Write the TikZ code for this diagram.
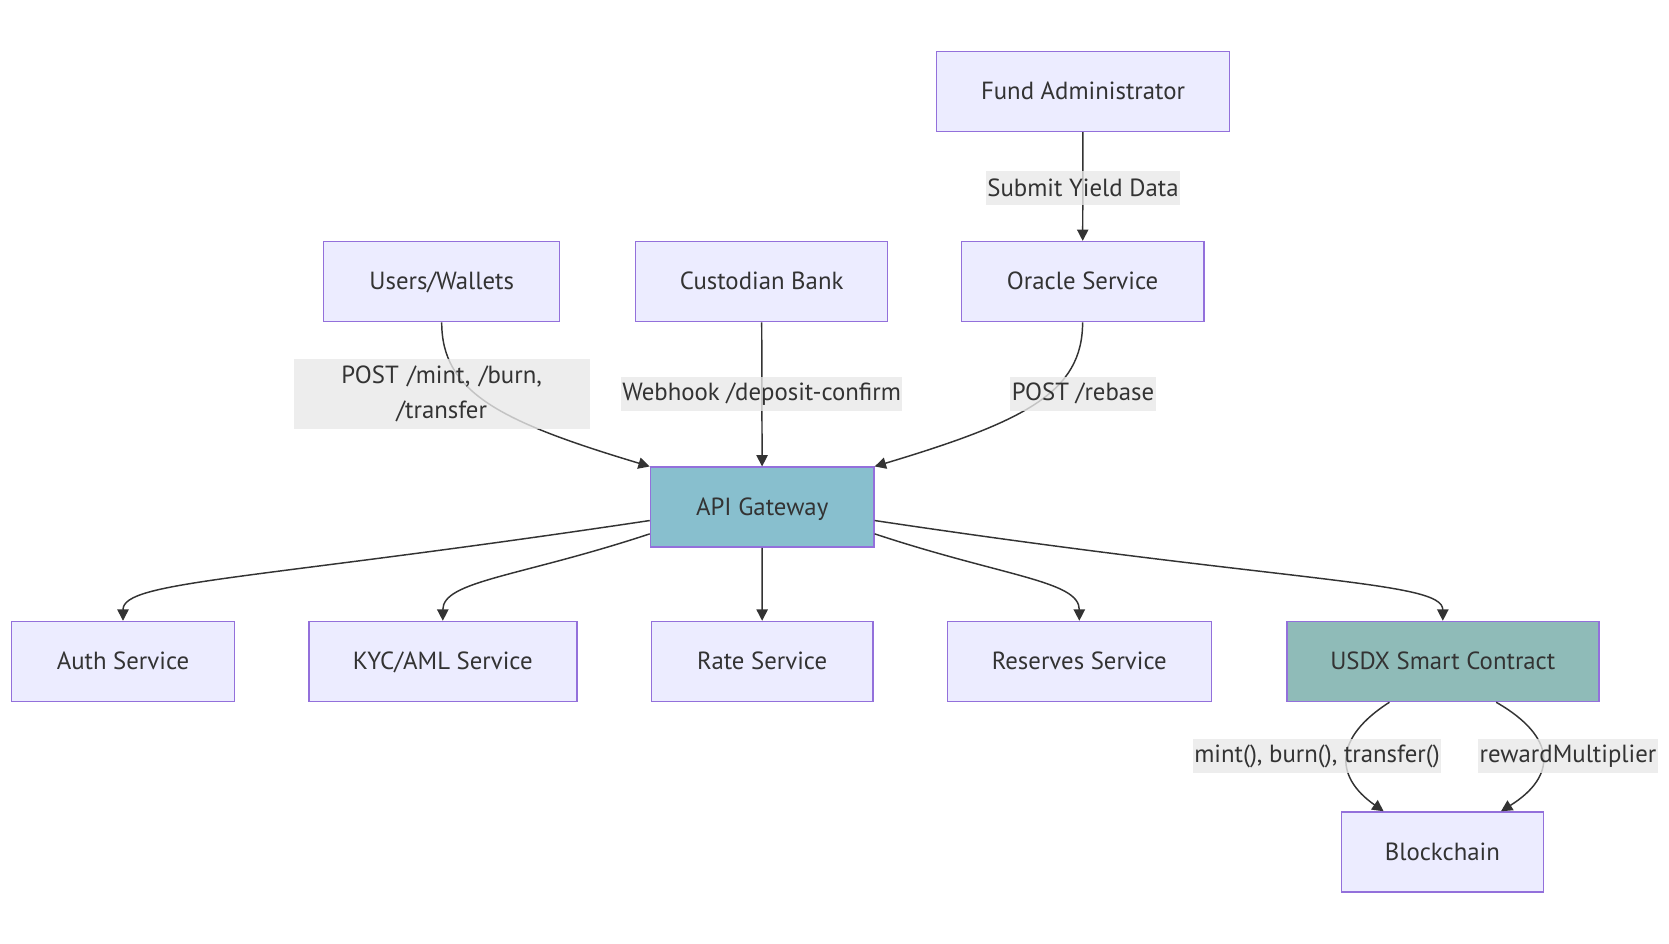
\documentclass[tikz,border=0pt]{standalone}
\usepackage{fontspec}
\setmainfont{PT Sans}
\usetikzlibrary{arrows.meta}

\definecolor{boxfill}{HTML}{ECECFF}
\definecolor{boxline}{HTML}{9370DB}
\definecolor{gatefill}{HTML}{88BFCE}
\definecolor{contractfill}{HTML}{8FBBB8}
\definecolor{inkgray}{HTML}{333333}
\definecolor{labelbg}{HTML}{E8E8E8}

\tikzset{
  box/.style={draw=boxline, fill=boxfill, line width=1.1pt, minimum height=60pt,
    text=inkgray, font=\fontsize{18.6}{22}\selectfont, text height=16pt, text depth=3.5pt},
  gate/.style={box, fill=gatefill},
  contract/.style={box, fill=contractfill},
  flow/.style={draw=inkgray, line width=1.1pt, -{Triangle[length=8.5pt,width=8.5pt]}},
  edgelabel/.style={fill=labelbg, fill opacity=0.8, text opacity=1, text=inkgray,
    font=\fontsize{18.6}{26}\selectfont, inner xsep=1pt, inner ysep=0pt, minimum height=25pt},
}

\begin{document}
\begin{tikzpicture}[x=0.75pt,y=-0.75pt]
  \useasboundingbox (0,0) rectangle (1669,944);

  % sources
  \node[box, minimum width=219.5pt] (fund) at (1083,91.5) {Fund Administrator};
  \node[box, minimum width=182pt] (oracle) at (1082.6,281.6) {Oracle Service};
  \node[box, minimum width=177pt] (users) at (441.7,281.6) {Users/Wallets};
  \node[box, minimum width=189pt] (bank) at (761.6,281.6) {Custodian Bank};
  \node[gate, minimum width=167.6pt] (api) at (762.2,507.2) {API Gateway};

  % services
  \foreach \name/\x/\w/\lab/\sty in {auth/123/167/{Auth Service}/box,
      kyc/442.8/201/{KYC/AML Service}/box, rate/762.1/166/{Rate Service}/box,
      reserves/1079.3/198/{Reserves Service}/box,
      usdx/1442.8/234/{USDX Smart Contract}/contract} {
    \node[\sty, minimum width=\w pt] (\name) at (\x,661.5) {\lab};
  }
  \node[box, minimum width=151.6pt] (chain) at (1442.3,852) {Blockchain};

  % connectors
  \draw[flow] (fund) -- (oracle);
  \draw[flow] (users.south) .. controls +(0,70) and +(-150,-45) .. (api.north west);
  \draw[flow] (bank) -- (api);
  \draw[flow] (oracle.south) .. controls +(0,70) and +(150,-45) .. (api.north east);
  \draw[flow] ([yshift=-10pt]api.west) .. controls +(-400,60) and +(0,-40) .. (auth.north);
  \draw[flow] ([yshift=-20pt]api.west) .. controls +(-130,43) and +(0,-40) .. (kyc.north);
  \draw[flow] (api) -- (rate);
  \draw[flow] ([yshift=-20pt]api.east) .. controls +(130,43) and +(0,-40) .. (reserves.north);
  \draw[flow] ([yshift=-10pt]api.east) .. controls +(420,63) and +(0,-40) .. (usdx.north);
  \draw[flow] ([xshift=-40pt]usdx.south) .. controls +(-55,35) and +(-50,-35) .. ([xshift=-44pt]chain.north);
  \draw[flow] ([xshift=40pt]usdx.south) .. controls +(61,35) and +(56,-35) .. ([xshift=44pt]chain.north);

  % edge labels
  \node[edgelabel] (lblyield) at (1083,187.9) {Submit Yield Data};
  \node[edgelabel, text width=220pt, align=center, minimum height=52.5pt] (lblpost)
    at (441.7,393.9) {POST /mint, /burn,\\/transfer};
  \node[edgelabel] (lblhook) at (761.6,393.9) {Webhook /deposit-confirm};
  \node[edgelabel] (lblrebase) at (1083,393.9) {POST /rebase};
  \node[edgelabel] (lblmint) at (1317,756) {mint(), burn(), transfer()};
  \node[edgelabel] (lblreward) at (1568,756) {rewardMultiplier};
\end{tikzpicture}
\end{document}
